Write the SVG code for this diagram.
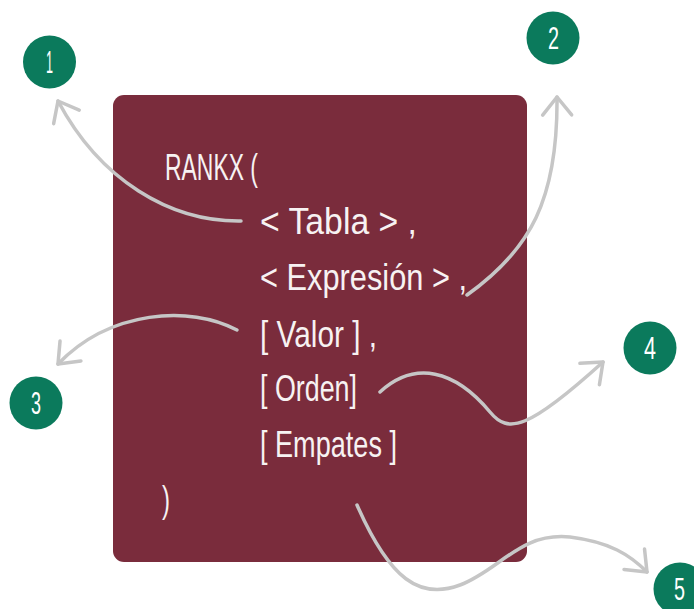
<svg xmlns="http://www.w3.org/2000/svg" width="694" height="609" viewBox="0 0 694 609">
  <style>
    .card { fill: #7A2C3C; }
    .code { font-family: "Liberation Sans", "DejaVu Sans", sans-serif; font-size: 36px; fill: #F7F2F2; }
    .badge circle { fill: #0B7A5C; }
    .badge text { font-family: "Liberation Sans", "DejaVu Sans", sans-serif; font-size: 31px; fill: #FFFFFF; }
    .link { fill: none; stroke: #C6C6C6; stroke-width: 3.5; stroke-linecap: round; marker-end: url(#chevron); }
  </style>
  <defs>
    <marker id="chevron" markerUnits="userSpaceOnUse" viewBox="-22 -18 26 36" refX="0" refY="0" markerWidth="26" markerHeight="36" orient="auto" overflow="visible">
      <path d="M-18,-14.5 L0,0 L-18,14.5" fill="none" stroke="#C6C6C6" stroke-width="3.5" stroke-linecap="round" stroke-linejoin="round"/>
    </marker>
  </defs>

  <rect id="card" class="card" x="113" y="95" width="414" height="467" rx="11"/>

  <g id="syntax">
    <text class="code" x="165" y="180" textLength="93" lengthAdjust="spacingAndGlyphs">RANKX (</text>
    <text class="code" x="260" y="234" textLength="157" lengthAdjust="spacingAndGlyphs">&lt; Tabla &gt; ,</text>
    <text class="code" x="260" y="290" textLength="207" lengthAdjust="spacingAndGlyphs">&lt; Expresión &gt; ,</text>
    <text class="code" x="260" y="347" textLength="117" lengthAdjust="spacingAndGlyphs">[ Valor ] ,</text>
    <text class="code" x="260" y="401" textLength="97" lengthAdjust="spacingAndGlyphs">[ Orden]</text>
    <text class="code" x="260" y="457" textLength="137" lengthAdjust="spacingAndGlyphs">[ Empates ]</text>
    <text class="code" x="162" y="512" textLength="8" lengthAdjust="spacingAndGlyphs">)</text>
  </g>

  <g id="connectors">
    <path class="link" d="M241,221 C170,222 100,180 58,101"/>
    <path class="link" d="M467,295 C530,250 558,200 557,97"/>
    <path class="link" d="M237,330 C190,305 110,310 58,364"/>
    <path class="link" d="M380,392 C415,360 455,370 490,412 C508,434 528,430 603,362"/>
    <path class="link" d="M357,505 C390,580 420,600 460,585 C500,570 520,532 570,537 C610,542 630,555 647,572"/>
  </g>

  <g id="badge-1" class="badge"><circle cx="49.5" cy="62" r="26.5"/><text x="46" y="73" textLength="7" lengthAdjust="spacingAndGlyphs">1</text></g>
  <g id="badge-2" class="badge"><circle cx="553" cy="38" r="26.5"/><text x="548" y="49" textLength="11" lengthAdjust="spacingAndGlyphs">2</text></g>
  <g id="badge-3" class="badge"><circle cx="36" cy="403" r="26.5"/><text x="31" y="414" textLength="10" lengthAdjust="spacingAndGlyphs">3</text></g>
  <g id="badge-4" class="badge"><circle cx="650" cy="348" r="26.5"/><text x="644" y="359" textLength="12" lengthAdjust="spacingAndGlyphs">4</text></g>
  <g id="badge-5" class="badge"><circle cx="680" cy="589" r="26.5"/><text x="674" y="600" textLength="11" lengthAdjust="spacingAndGlyphs">5</text></g>
</svg>
